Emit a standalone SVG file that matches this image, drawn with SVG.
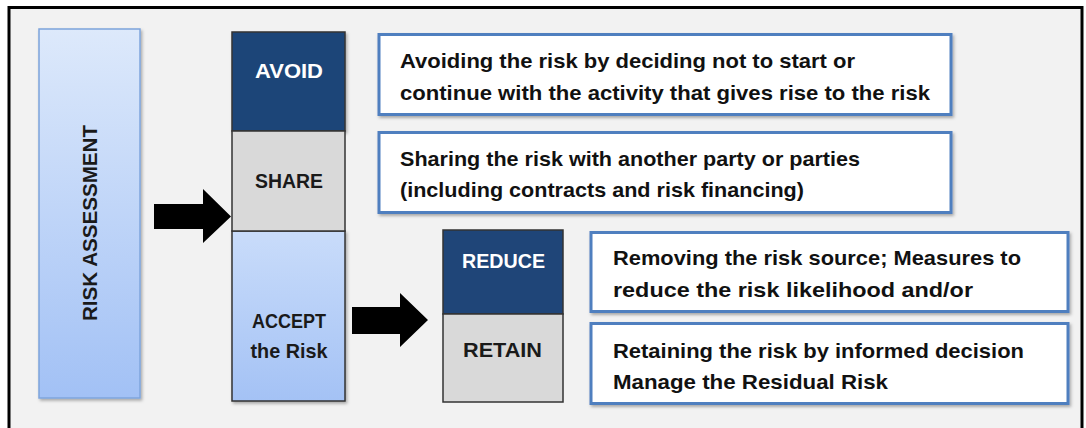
<svg xmlns="http://www.w3.org/2000/svg" width="1086" height="428" viewBox="0 0 1086 428">
  <defs>
    <linearGradient id="gradAssess" x1="0" y1="0" x2="0" y2="1">
      <stop offset="0" stop-color="#dde9fb"/>
      <stop offset="1" stop-color="#a2c1f5"/>
    </linearGradient>
    <linearGradient id="gradAccept" x1="0" y1="0" x2="0" y2="1">
      <stop offset="0" stop-color="#c9dcfa"/>
      <stop offset="1" stop-color="#a4c2f5"/>
    </linearGradient>
    <filter id="shadow" x="-10%" y="-10%" width="130%" height="130%">
      <feDropShadow dx="1.5" dy="2" stdDeviation="1.5" flood-color="#000" flood-opacity="0.3"/>
    </filter>
  </defs>
  <style>
    .lbl { font-family: "Liberation Sans", Arial, sans-serif; font-weight: bold; font-size: 21px; text-anchor: middle; }
    .light { fill: #ffffff; }
    .dark { fill: #1a1a1a; }
    .desc { font-family: "Liberation Sans", Arial, sans-serif; font-weight: bold; font-size: 21px; fill: #111111; }
    .cell { stroke: #333333; stroke-width: 1.5; }
    .note { fill: #ffffff; stroke: #4f7fbf; stroke-width: 3; }
    .arrow { fill: #000000; }
  </style>

  <!-- frame -->
  <rect x="0" y="0" width="1086" height="428" fill="#ffffff"/>
  <rect x="9" y="7.5" width="1073" height="430" fill="#f2f2f2" stroke="#000000" stroke-width="3"/>

  <!-- risk assessment column -->
  <g id="risk-assessment">
    <rect x="39" y="29" width="101" height="369" fill="url(#gradAssess)" stroke="#7ea4dc" stroke-width="1.5" filter="url(#shadow)"/>
    <text class="lbl dark" transform="translate(97,223) rotate(-90)" textLength="196" lengthAdjust="spacingAndGlyphs">RISK ASSESSMENT</text>
  </g>

  <!-- treatment options column -->
  <g id="accept">
    <rect class="cell" x="232" y="231" width="113" height="170" fill="url(#gradAccept)" stroke="#7ea4dc" filter="url(#shadow)"/>
    <text class="lbl dark" x="289" y="328" textLength="74" lengthAdjust="spacingAndGlyphs">ACCEPT</text>
    <text class="lbl dark" x="289" y="358" textLength="77" lengthAdjust="spacingAndGlyphs">the Risk</text>
  </g>
  <g id="avoid">
    <rect class="cell" x="232" y="32" width="113" height="99" fill="#1f4578" filter="url(#shadow)"/>
    <text class="lbl light" x="289" y="78" textLength="68" lengthAdjust="spacingAndGlyphs">AVOID</text>
  </g>
  <g id="share">
    <rect class="cell" x="232" y="131" width="113" height="100" fill="#d9d9d9"/>
    <text class="lbl dark" x="289" y="188" textLength="68" lengthAdjust="spacingAndGlyphs">SHARE</text>
  </g>

  <!-- acceptance sub-options -->
  <g id="reduce">
    <rect class="cell" x="443" y="230" width="120" height="84" fill="#1f4578"/>
    <text class="lbl light" x="503.5" y="268" textLength="83" lengthAdjust="spacingAndGlyphs">REDUCE</text>
  </g>
  <g id="retain">
    <rect class="cell" x="443" y="314" width="120" height="88" fill="#d9d9d9"/>
    <text class="lbl dark" x="502.5" y="357" textLength="79" lengthAdjust="spacingAndGlyphs">RETAIN</text>
  </g>

  <!-- description boxes -->
  <g id="avoid-note">
    <rect class="note" x="379" y="34.5" width="572" height="80" filter="url(#shadow)"/>
    <text class="desc" x="400" y="68" textLength="455" lengthAdjust="spacingAndGlyphs">Avoiding the risk by deciding not to start or</text>
    <text class="desc" x="400" y="100" textLength="530" lengthAdjust="spacingAndGlyphs">continue with the activity that gives rise to the risk</text>
  </g>
  <g id="share-note">
    <rect class="note" x="379" y="132.5" width="572" height="80" filter="url(#shadow)"/>
    <text class="desc" x="400" y="166" textLength="460" lengthAdjust="spacingAndGlyphs">Sharing the risk with another party or parties</text>
    <text class="desc" x="400" y="197" textLength="404" lengthAdjust="spacingAndGlyphs">(including contracts and risk financing)</text>
  </g>
  <g id="reduce-note">
    <rect class="note" x="591" y="232.5" width="477" height="79" filter="url(#shadow)"/>
    <text class="desc" x="613" y="265" textLength="408" lengthAdjust="spacingAndGlyphs">Removing the risk source; Measures to</text>
    <text class="desc" x="613" y="297" textLength="360" lengthAdjust="spacingAndGlyphs">reduce the risk likelihood and/or</text>
  </g>
  <g id="retain-note">
    <rect class="note" x="591" y="323.5" width="477" height="80" filter="url(#shadow)"/>
    <text class="desc" x="613" y="358" textLength="411" lengthAdjust="spacingAndGlyphs">Retaining the risk by informed decision</text>
    <text class="desc" x="613" y="389" textLength="275" lengthAdjust="spacingAndGlyphs">Manage the Residual Risk</text>
  </g>

  <!-- connectors -->
  <g id="connectors">
    <polygon class="arrow" points="154,204 203,204 203,189 231,216.5 203,243 203,229 154,229"/>
    <polygon class="arrow" points="352,307 400,307 400,293 428,320 400,347 400,334 352,334"/>
  </g>
</svg>
